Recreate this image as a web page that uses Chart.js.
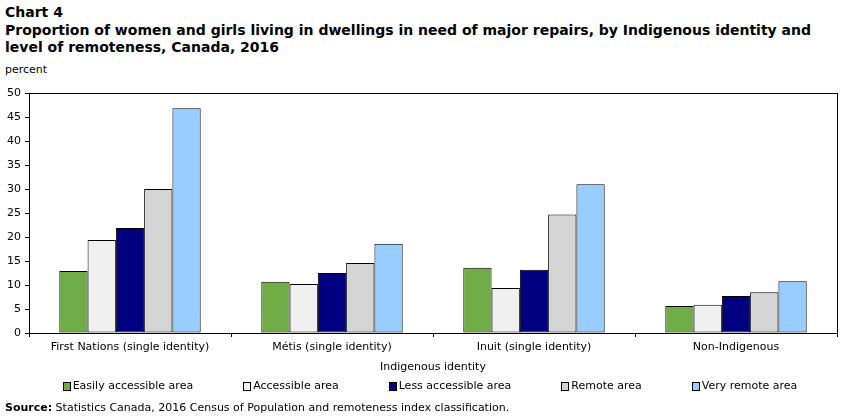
<!DOCTYPE html>
<html lang="en">
<head>
<meta charset="UTF-8">
<title>Chart 4</title>
<script src="https://cdn.jsdelivr.net/npm/chart.js@4.4.0/dist/chart.umd.min.js"></script>
<style>
    body { margin: 0; width: 852px; height: 417px; position: relative; overflow: hidden; background: #fff;
           font-family: "DejaVu Sans", Verdana, sans-serif; color: #000; }
    #chart-title { position: absolute; left: 5px; top: 4px; font-weight: bold; font-size: 14px; line-height: 17.5px; white-space: nowrap; }
    #unit { position: absolute; left: 5px; top: 63px; font-size: 11px; line-height: 14px; }
    #wrap { position: absolute; left: 0; top: 0; width: 852px; height: 417px; }
    #legend { position: absolute; left: 0; top: 379px; width: 860px; display: flex; justify-content: center;
              font-size: 11px; line-height: 14px; white-space: nowrap; }
    #legend .item { display: flex; align-items: center; margin: 0 25px; }
    #legend .swatch { display: inline-block; width: 6px; height: 7px; border: 1px solid #000; margin-right: 2px; }
    #source { position: absolute; left: 5px; top: 401px; font-size: 11px; line-height: 14px; white-space: nowrap; }
</style>
</head>
<body>
    <div id="chart-title">Chart 4<br>Proportion of women and girls living in dwellings in need of major repairs, by Indigenous identity and<br>level of remoteness, Canada, 2016</div>
    <div id="unit">percent</div>
    <div id="wrap"><canvas id="chart4"></canvas></div>
    <div id="legend"></div>
    <div id="source"><b>Source:</b> Statistics Canada, 2016 Census of Population and remoteness index classification.</div>

<script>
    // categories (x axis)
    const categories = ['First Nations (single identity)', 'Métis (single identity)', 'Inuit (single identity)', 'Non-Indigenous'];

    // series (percent)
    const seriesNames = ['Easily accessible area', 'Accessible area', 'Less accessible area', 'Remote area', 'Very remote area'];
    const easilyAccessible = [12.9, 10.7, 13.6, 5.6];
    const accessible       = [19.4, 10.2, 9.4, 5.9];
    const lessAccessible   = [21.9, 12.5, 13.2, 7.7];
    const remote           = [30.0, 14.6, 24.7, 8.5];
    const veryRemote       = [46.8, 18.6, 31.0, 10.8];
    const seriesColors = ['#70ad47', '#f0f0f0', '#000080', '#d4d4d4', '#99ccff'];

    // y axis
    const yMin = 0, yMax = 50, yStep = 5;

    const allSeries = [easilyAccessible, accessible, lessAccessible, remote, veryRemote];

    const datasets = allSeries.map((values, i) => ({
        label: seriesNames[i],
        data: values,
        backgroundColor: seriesColors[i],
        borderColor: '#000',
        borderWidth: 1,
        borderSkipped: false,
        categoryPercentage: 0.7,
        barPercentage: 1.0
    }));

    // frame round the plot area
    const framePlugin = {
        id: 'frame',
        afterDraw(chart) {
            const a = chart.chartArea;
            const ctx = chart.ctx;
            ctx.save();
            ctx.strokeStyle = '#000';
            ctx.lineWidth = 1;
            ctx.strokeRect(Math.round(a.left) + 0.5, Math.round(a.top) + 0.5,
                           Math.round(a.right - a.left), Math.round(a.bottom - a.top));
            ctx.restore();
        }
    };

    Chart.defaults.font.family = '"DejaVu Sans", Verdana, sans-serif';
    Chart.defaults.font.size = 11;
    Chart.defaults.color = '#000';

    const ctx = document.getElementById('chart4').getContext('2d');
    const chart4 = new Chart(ctx, {
        type: 'bar',
        data: { labels: categories, datasets: datasets },
        options: {
            responsive: true,
            maintainAspectRatio: false,
            animation: false,
            layout: { padding: { top: 93, left: 0, right: 15, bottom: 42 } },
            plugins: {
                legend: { display: false },
                tooltip: { enabled: false }
            },
            scales: {
                x: {
                    grid: { display: true, offset: true, drawOnChartArea: false, drawTicks: true, tickLength: 4, color: '#000' },
                    border: { display: false },
                    ticks: { padding: 4, maxRotation: 0, autoSkip: false },
                    title: { display: true, text: 'Indigenous identity', padding: { top: 2, bottom: 1 } },
                    afterFit(scale) { scale.height = 42; }
                },
                y: {
                    min: yMin,
                    max: yMax,
                    ticks: { stepSize: yStep, padding: 4 },
                    grid: { display: true, drawOnChartArea: false, drawTicks: true, tickLength: 4, color: '#000' },
                    border: { display: false },
                    afterFit(scale) { scale.width = 29; }
                }
            }
        },
        plugins: [framePlugin]
    });

    // legend as plain text under the chart
    const legend = document.getElementById('legend');
    seriesNames.forEach((name, i) => {
        const item = document.createElement('span');
        item.className = 'item';
        const sw = document.createElement('span');
        sw.className = 'swatch';
        sw.style.background = seriesColors[i];
        item.appendChild(sw);
        item.appendChild(document.createTextNode(name));
        legend.appendChild(item);
    });
</script>
</body>
</html>
